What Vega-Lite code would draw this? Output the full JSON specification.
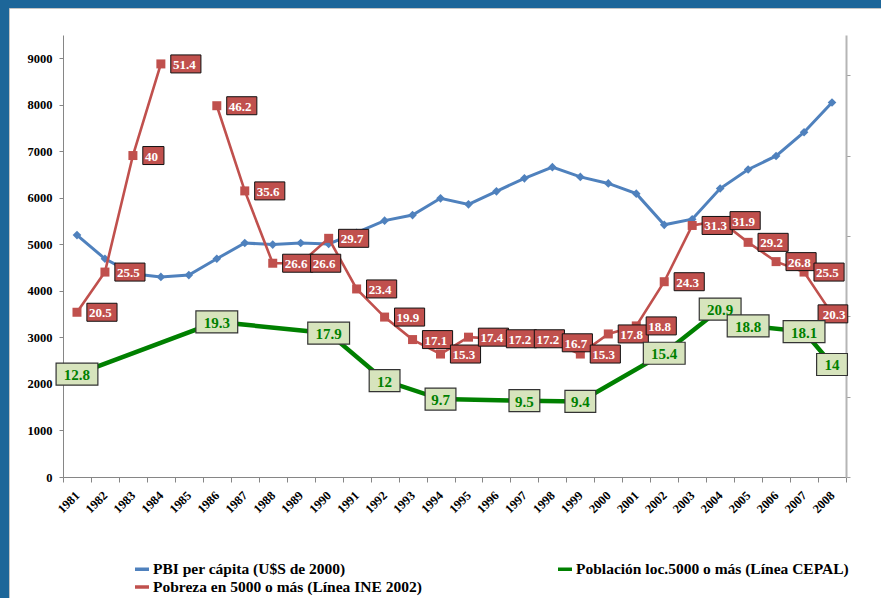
{
  "$schema": "https://vega.github.io/schema/vega-lite/v6.json",
  "width": 872,
  "height": 590,
  "autosize": {"type": "none"},
  "padding": {"left": 9, "top": 8, "right": 0, "bottom": 0},
  "background": "#1d6699",
  "title": {"text": "Serie 1981-2008.", "anchor": "middle", "frame": "group", "offset": 4, "baseline": "bottom", "font": "Liberation Serif", "fontSize": 22, "fontWeight": "bold", "color": "#000000"},
  "data": {"values": [
    {"anio": 1981, "serie": "PBI per cápita (U$S de 2000)", "valor": 5200},
    {"anio": 1982, "serie": "PBI per cápita (U$S de 2000)", "valor": 4690},
    {"anio": 1983, "serie": "PBI per cápita (U$S de 2000)", "valor": 4370},
    {"anio": 1984, "serie": "PBI per cápita (U$S de 2000)", "valor": 4300},
    {"anio": 1985, "serie": "PBI per cápita (U$S de 2000)", "valor": 4340},
    {"anio": 1986, "serie": "PBI per cápita (U$S de 2000)", "valor": 4690},
    {"anio": 1987, "serie": "PBI per cápita (U$S de 2000)", "valor": 5030},
    {"anio": 1988, "serie": "PBI per cápita (U$S de 2000)", "valor": 4995},
    {"anio": 1989, "serie": "PBI per cápita (U$S de 2000)", "valor": 5030},
    {"anio": 1990, "serie": "PBI per cápita (U$S de 2000)", "valor": 5010},
    {"anio": 1991, "serie": "PBI per cápita (U$S de 2000)", "valor": 5250},
    {"anio": 1992, "serie": "PBI per cápita (U$S de 2000)", "valor": 5510},
    {"anio": 1993, "serie": "PBI per cápita (U$S de 2000)", "valor": 5630},
    {"anio": 1994, "serie": "PBI per cápita (U$S de 2000)", "valor": 5990},
    {"anio": 1995, "serie": "PBI per cápita (U$S de 2000)", "valor": 5860},
    {"anio": 1996, "serie": "PBI per cápita (U$S de 2000)", "valor": 6140},
    {"anio": 1997, "serie": "PBI per cápita (U$S de 2000)", "valor": 6420},
    {"anio": 1998, "serie": "PBI per cápita (U$S de 2000)", "valor": 6660},
    {"anio": 1999, "serie": "PBI per cápita (U$S de 2000)", "valor": 6450},
    {"anio": 2000, "serie": "PBI per cápita (U$S de 2000)", "valor": 6310},
    {"anio": 2001, "serie": "PBI per cápita (U$S de 2000)", "valor": 6090},
    {"anio": 2002, "serie": "PBI per cápita (U$S de 2000)", "valor": 5420},
    {"anio": 2003, "serie": "PBI per cápita (U$S de 2000)", "valor": 5540},
    {"anio": 2004, "serie": "PBI per cápita (U$S de 2000)", "valor": 6200},
    {"anio": 2005, "serie": "PBI per cápita (U$S de 2000)", "valor": 6610},
    {"anio": 2006, "serie": "PBI per cápita (U$S de 2000)", "valor": 6900},
    {"anio": 2007, "serie": "PBI per cápita (U$S de 2000)", "valor": 7410},
    {"anio": 2008, "serie": "PBI per cápita (U$S de 2000)", "valor": 8050},
    {"anio": 1981, "serie": "Pobreza en 5000 o más (Línea INE 2002)", "valor": 20.5},
    {"anio": 1982, "serie": "Pobreza en 5000 o más (Línea INE 2002)", "valor": 25.5},
    {"anio": 1983, "serie": "Pobreza en 5000 o más (Línea INE 2002)", "valor": 40},
    {"anio": 1984, "serie": "Pobreza en 5000 o más (Línea INE 2002)", "valor": 51.4},
    {"anio": 1985, "serie": "Pobreza en 5000 o más (Línea INE 2002)", "valor": null},
    {"anio": 1986, "serie": "Pobreza en 5000 o más (Línea INE 2002)", "valor": 46.2},
    {"anio": 1987, "serie": "Pobreza en 5000 o más (Línea INE 2002)", "valor": 35.6},
    {"anio": 1988, "serie": "Pobreza en 5000 o más (Línea INE 2002)", "valor": 26.6},
    {"anio": 1989, "serie": "Pobreza en 5000 o más (Línea INE 2002)", "valor": 26.6},
    {"anio": 1990, "serie": "Pobreza en 5000 o más (Línea INE 2002)", "valor": 29.7},
    {"anio": 1991, "serie": "Pobreza en 5000 o más (Línea INE 2002)", "valor": 23.4},
    {"anio": 1992, "serie": "Pobreza en 5000 o más (Línea INE 2002)", "valor": 19.9},
    {"anio": 1993, "serie": "Pobreza en 5000 o más (Línea INE 2002)", "valor": 17.1},
    {"anio": 1994, "serie": "Pobreza en 5000 o más (Línea INE 2002)", "valor": 15.3},
    {"anio": 1995, "serie": "Pobreza en 5000 o más (Línea INE 2002)", "valor": 17.4},
    {"anio": 1996, "serie": "Pobreza en 5000 o más (Línea INE 2002)", "valor": 17.2},
    {"anio": 1997, "serie": "Pobreza en 5000 o más (Línea INE 2002)", "valor": 17.2},
    {"anio": 1998, "serie": "Pobreza en 5000 o más (Línea INE 2002)", "valor": 16.7},
    {"anio": 1999, "serie": "Pobreza en 5000 o más (Línea INE 2002)", "valor": 15.3},
    {"anio": 2000, "serie": "Pobreza en 5000 o más (Línea INE 2002)", "valor": 17.8},
    {"anio": 2001, "serie": "Pobreza en 5000 o más (Línea INE 2002)", "valor": 18.8},
    {"anio": 2002, "serie": "Pobreza en 5000 o más (Línea INE 2002)", "valor": 24.3},
    {"anio": 2003, "serie": "Pobreza en 5000 o más (Línea INE 2002)", "valor": 31.3},
    {"anio": 2004, "serie": "Pobreza en 5000 o más (Línea INE 2002)", "valor": 31.9},
    {"anio": 2005, "serie": "Pobreza en 5000 o más (Línea INE 2002)", "valor": 29.2},
    {"anio": 2006, "serie": "Pobreza en 5000 o más (Línea INE 2002)", "valor": 26.8},
    {"anio": 2007, "serie": "Pobreza en 5000 o más (Línea INE 2002)", "valor": 25.5},
    {"anio": 2008, "serie": "Pobreza en 5000 o más (Línea INE 2002)", "valor": 20.3},
    {"anio": 1981, "serie": "Población loc.5000 o más (Línea CEPAL)", "valor": 12.8},
    {"anio": 1986, "serie": "Población loc.5000 o más (Línea CEPAL)", "valor": 19.3},
    {"anio": 1990, "serie": "Población loc.5000 o más (Línea CEPAL)", "valor": 17.9},
    {"anio": 1992, "serie": "Población loc.5000 o más (Línea CEPAL)", "valor": 12},
    {"anio": 1994, "serie": "Población loc.5000 o más (Línea CEPAL)", "valor": 9.7},
    {"anio": 1997, "serie": "Población loc.5000 o más (Línea CEPAL)", "valor": 9.5},
    {"anio": 1999, "serie": "Población loc.5000 o más (Línea CEPAL)", "valor": 9.4},
    {"anio": 2002, "serie": "Población loc.5000 o más (Línea CEPAL)", "valor": 15.4},
    {"anio": 2004, "serie": "Población loc.5000 o más (Línea CEPAL)", "valor": 20.9},
    {"anio": 2005, "serie": "Población loc.5000 o más (Línea CEPAL)", "valor": 18.8},
    {"anio": 2007, "serie": "Población loc.5000 o más (Línea CEPAL)", "valor": 18.1},
    {"anio": 2008, "serie": "Población loc.5000 o más (Línea CEPAL)", "valor": 14}
  ]},
  "encoding": {
    "x": {
      "field": "anio", "type": "ordinal", "bandPosition": 0.5,
      "scale": {"type": "band", "range": [54, 837], "paddingInner": 0, "paddingOuter": 0},
      "axis": {"orient": "bottom", "offset": -121, "tickBand": "extent", "labelAngle": -45, "labelAlign": "right", "labelBaseline": "middle", "labelFontSize": 12.5, "labelPadding": 11, "tickSize": 5, "domainColor": "#868686", "tickColor": "#868686", "title": null, "labelFlush": false, "labelOverlap": false}
    }
  },
  "layer": [
    {
      "encoding": {
        "y": {"field": "valor", "type": "quantitative",
          "scale": {"domain": [0, 9500], "range": [469, 27], "nice": false, "zero": true},
          "axis": {"orient": "left", "offset": -54, "values": [0, 1000, 2000, 3000, 4000, 5000, 6000, 7000, 8000, 9000], "format": "d", "labelFontSize": 12.5, "labelPadding": 7, "tickSize": 4, "domainColor": "#868686", "tickColor": "#868686", "title": null}}
      },
      "layer": [
        {
          "transform": [{"filter": {"field": "serie", "equal": "PBI per cápita (U$S de 2000)"}}],
          "mark": {"type": "line", "strokeWidth": 3},
          "encoding": {
            "color": {"field": "serie", "type": "nominal",
              "scale": {"domain": ["PBI per cápita (U$S de 2000)", "Pobreza en 5000 o más (Línea INE 2002)", "Población loc.5000 o más (Línea CEPAL)"], "range": ["#4f81bd", "#c0504d", "#008000"]},
              "legend": {"orient": "none", "legendX": 124, "legendY": 552, "columns": 2, "columnPadding": 129, "rowPadding": 0, "title": null, "labelFont": "Liberation Serif", "labelFontSize": 15.5, "labelFontWeight": "bold", "labelColor": "black", "labelLimit": 400, "labelOffset": 2, "symbolType": "stroke", "symbolSize": 196, "symbolStrokeWidth": 3.5}
            }
          }
        },
        {
          "transform": [{"filter": {"field": "serie", "equal": "PBI per cápita (U$S de 2000)"}}],
          "mark": {"type": "point", "shape": "diamond", "size": 75, "filled": true, "opacity": 1, "color": "#4f81bd"}
        }
      ]
    },
    {
      "encoding": {
        "y": {"field": "valor", "type": "quantitative",
          "scale": {"domain": [0, 55], "range": [469, 27], "nice": false, "zero": true},
          "axis": {"orient": "right", "offset": -35, "values": [0, 10, 20, 30, 40, 50], "labels": false, "tickSize": 4, "domainColor": "#b5b5b5", "domainWidth": 2, "tickColor": "#a0a0a0", "title": null}}
      },
      "layer": [
        {
          "transform": [{"filter": {"field": "serie", "equal": "Pobreza en 5000 o más (Línea INE 2002)"}}],
          "mark": {"type": "line", "strokeWidth": 2.6},
          "encoding": {"color": {"field": "serie", "type": "nominal"}}
        },
        {
          "transform": [{"filter": {"field": "serie", "equal": "Pobreza en 5000 o más (Línea INE 2002)"}}, {"filter": "isValid(datum.valor)"}],
          "mark": {"type": "point", "shape": "square", "size": 81, "filled": true, "opacity": 1, "color": "#c0504d"}
        },
        {
          "transform": [{"filter": {"field": "serie", "equal": "Población loc.5000 o más (Línea CEPAL)"}}],
          "mark": {"type": "line", "strokeWidth": 4.5},
          "encoding": {"color": {"field": "serie", "type": "nominal"}}
        },
        {
          "transform": [{"filter": {"field": "serie", "equal": "Pobreza en 5000 o más (Línea INE 2002)"}}, {"filter": "isValid(datum.valor)"}],
          "mark": {"type": "point", "size": 324, "filled": true, "opacity": 1, "fill": "#c0504d", "stroke": "#111111", "strokeWidth": 1, "fillOpacity": 1, "strokeOpacity": 1},
          "encoding": {"shape": {"condition": [{"test": "datum.anio === 2008", "value": "M-1.55,-1H1.75V1H-1.55Z"}, {"test": "datum.valor % 1 === 0", "value": "M1.1,-1H3.45V1H1.1Z"}], "value": "M1.1,-1H4.45V1H1.1Z"}}
        },
        {
          "transform": [{"filter": {"field": "serie", "equal": "Pobreza en 5000 o más (Línea INE 2002)"}}, {"filter": "isValid(datum.valor) && datum.anio !== 2008"}],
          "mark": {"type": "text", "align": "left", "baseline": "middle", "dx": 12, "dy": 1, "font": "Liberation Serif", "fontSize": 13, "fontWeight": "bold", "color": "#ffffff"},
          "encoding": {"text": {"field": "valor", "type": "quantitative", "format": ".1~f"}}
        },
        {
          "transform": [{"filter": {"field": "serie", "equal": "Pobreza en 5000 o más (Línea INE 2002)"}}, {"filter": "datum.anio === 2008"}],
          "mark": {"type": "text", "align": "center", "baseline": "middle", "dx": 2, "dy": 1, "font": "Liberation Serif", "fontSize": 13, "fontWeight": "bold", "color": "#ffffff"},
          "encoding": {"text": {"field": "valor", "type": "quantitative", "format": ".1~f"}}
        },
        {
          "transform": [{"filter": {"field": "serie", "equal": "Población loc.5000 o más (Línea CEPAL)"}}],
          "mark": {"type": "point", "size": 484, "filled": true, "opacity": 1, "fill": "#d7e4bd", "stroke": "#333333", "strokeWidth": 1.2, "fillOpacity": 1, "strokeOpacity": 1},
          "encoding": {"shape": {"condition": {"test": "datum.valor < 10 || datum.valor % 1 === 0", "value": "M-1.4,-1H1.4V1H-1.4Z"}, "value": "M-1.9,-1H1.9V1H-1.9Z"}}
        },
        {
          "transform": [{"filter": {"field": "serie", "equal": "Población loc.5000 o más (Línea CEPAL)"}}],
          "mark": {"type": "text", "align": "center", "baseline": "middle", "dy": 1, "font": "Liberation Serif", "fontSize": 15, "fontWeight": "bold", "color": "#008000"},
          "encoding": {"text": {"field": "valor", "type": "quantitative", "format": ".1~f"}}
        }
      ]
    }
  ],
  "resolve": {"scale": {"y": "independent"}},
  "config": {
    "font": "Liberation Serif",
    "view": {"fill": "#ffffff", "stroke": "#c4c4c4", "strokeWidth": 1},
    "axis": {"labelFont": "Liberation Serif", "labelFontWeight": "bold", "labelColor": "#000000", "grid": false}
  }
}
